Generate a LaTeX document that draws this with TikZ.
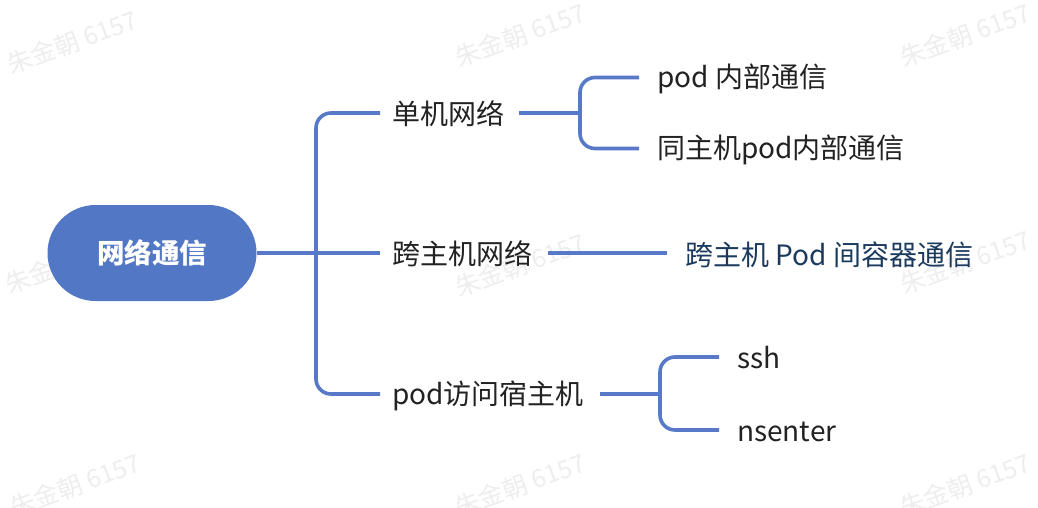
\documentclass[tikz,border=0pt]{standalone}
\usepackage{fontspec}
\setmainfont{Noto Sans CJK SC}
\definecolor{branch}{HTML}{5878C8}
\definecolor{rootfill}{HTML}{5177C5}
\definecolor{txt}{HTML}{222222}
\definecolor{txtblue}{HTML}{1B3A5E}
\definecolor{wm}{HTML}{EEEEEE}
\begin{document}
\begin{tikzpicture}[x=1pt,y=-1pt,
  line/.style={draw=branch, line width=3.6pt, rounded corners=15pt},
  lbl/.style={anchor=west, inner sep=0pt, font=\fontsize{28}{32}\selectfont, text=txt},
  rootbox/.style={fill=rootfill, rounded corners=48pt, minimum width=209pt, minimum height=96pt, text=white, font=\fontsize{27.5}{30}\selectfont\bfseries},
  wmark/.style={rotate=20, text=wm, font=\fontsize{25}{28}\selectfont, inner sep=0pt}]
\useasboundingbox (0,0) rectangle (1038,508);
\fill[white] (0,0) rectangle (1038,508);
% watermarks
\foreach \i/\x/\y in {1/72/42, 2/520/35, 3/965/35, 4/70/262, 5/520/265, 6/965/262, 7/75/485, 8/520/485, 9/965/485}
  \node[wmark] (wm\i) at (\x,\y) {朱金朝 6157};
% nodes
\node[rootbox] (root) at (152,253) {网络通信};
\node[lbl] (a) at (392,114) {单机网络};
\node[lbl] (b) at (392,254) {跨主机网络};
\node[lbl] (c) at (392,396) {pod访问宿主机};
\node[lbl] (a1) at (657,79) {pod 内部通信};
\node[lbl] (a2) at (657,150) {同主机pod内部通信};
\node[lbl,text=txtblue] (b1) at (685,255) {跨主机 Pod 间容器通信};
\node[lbl] (c1) at (737,358) {ssh};
\node[lbl] (c2) at (737,432) {nsenter};
% junctions and line ends
\coordinate (j0) at (316,253);
\coordinate (j1) at (580,113);
\coordinate (j3) at (660,394);
\coordinate (bin) at ([xshift=-12pt]b.west);
\coordinate (ain) at ([xshift=-12pt]a.west);
\coordinate (cin) at ([xshift=-12pt]c.west);
\coordinate (aout) at ([xshift=15pt]a.east);
\coordinate (bout) at ([xshift=16pt]b.east);
\coordinate (cout) at ([xshift=16pt]c.east);
\coordinate (b1in) at ([xshift=-18pt]b1.west);
% connectors
\draw[line] (root.east) -- (bin |- j0);
\draw[line] (j0) |- (ain |- j1);
\draw[line] (j0) |- (cin |- j3);
\draw[line] (aout |- j1) -- (j1);
\draw[line] (j1) |- ([xshift=-18pt,yshift=1.5pt]a1.west);
\draw[line] (j1) |- ([xshift=-18pt,yshift=1.5pt]a2.west);
\draw[line] (bout |- j0) -- (b1in |- j0);
\draw[line] (cout |- j3) -- (j3);
\draw[line] (j3) |- ([xshift=-18pt,yshift=1pt]c1.west);
\draw[line] (j3) |- ([xshift=-18pt,yshift=2pt]c2.west);
\end{tikzpicture}
\end{document}
